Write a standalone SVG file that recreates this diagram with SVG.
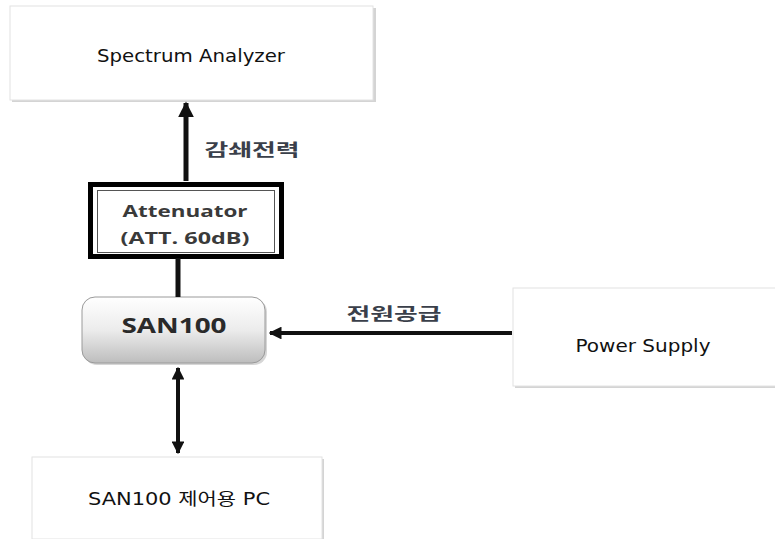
<svg xmlns="http://www.w3.org/2000/svg" width="775" height="539" viewBox="0 0 775 539">
<defs>
<style>
.box{fill:#fff;stroke:#e2e2e2;stroke-width:1}
.shadow{fill:#d4d4d4}
.lbl{font-family:"DejaVu Sans","Noto Sans CJK KR",sans-serif;font-size:17px;fill:#111;text-anchor:middle}
.kr{font-family:"Noto Sans CJK KR",sans-serif;font-weight:bold;font-size:17px;fill:#3a3f4a;text-anchor:middle}
.att{font-family:"Open Sans","DejaVu Sans",sans-serif;font-weight:bold;font-size:16px;fill:#3a3a3a;text-anchor:middle}
.line{stroke:#111;stroke-width:5;fill:none}
</style>
<linearGradient id="g" x1="0" y1="0" x2="0" y2="1">
<stop offset="0" stop-color="#ffffff"/>
<stop offset="0.5" stop-color="#ececec"/>
<stop offset="1" stop-color="#bdbdbd"/>
</linearGradient>
<marker id="ah" viewBox="0 0 10 10" refX="9" refY="5" markerWidth="3.2" markerHeight="3.2" orient="auto-start-reverse" markerUnits="strokeWidth">
<path d="M0,0 L10,5 L0,10 z" fill="#111"/>
</marker>
</defs>

<g id="spectrum-analyzer">
<rect class="shadow" x="12" y="8" width="364" height="94"/>
<rect class="box" x="10" y="6" width="363" height="94"/>
<text class="lbl" x="191" y="62" textLength="188" lengthAdjust="spacingAndGlyphs">Spectrum Analyzer</text>
</g>

<g id="attenuator">
<rect x="90.5" y="184.5" width="191" height="72" fill="#fff" stroke="#000" stroke-width="5"/>
<rect x="97.5" y="190.5" width="177" height="62" fill="#fff" stroke="#555" stroke-width="1"/>
<text class="att" x="185" y="217" textLength="125" lengthAdjust="spacingAndGlyphs">Attenuator</text>
<text class="att" x="185" y="244" textLength="129" lengthAdjust="spacingAndGlyphs">(ATT. 60dB)</text>
</g>

<g id="san100">
<rect x="84" y="299" width="183" height="66" rx="13" fill="#bbb" opacity="0.6"/>
<rect x="82" y="297" width="183" height="66" rx="13" fill="url(#g)" stroke="#9a9a9a" stroke-width="1"/>
<text x="174" y="333" font-family="'Open Sans','DejaVu Sans',sans-serif" font-weight="bold" font-size="22" fill="#2a2a2a" text-anchor="middle" textLength="105" lengthAdjust="spacingAndGlyphs">SAN100</text>
</g>

<g id="power-supply">
<rect class="shadow" x="515" y="290" width="262" height="98"/>
<rect class="box" x="513" y="288" width="264" height="98"/>
<text class="lbl" x="643" y="352" textLength="135" lengthAdjust="spacingAndGlyphs">Power Supply</text>
</g>

<g id="pc">
<rect class="shadow" x="34" y="459" width="290" height="82"/>
<rect class="box" x="32" y="457" width="290" height="82"/>
<text class="lbl" x="179" y="505" textLength="182" lengthAdjust="spacingAndGlyphs">SAN100 제어용 PC</text>
</g>

<g id="connectors">
<line class="line" x1="186" y1="181" x2="186" y2="103" marker-end="url(#ah)"/>
<text class="kr" x="252" y="156" textLength="95" lengthAdjust="spacingAndGlyphs">감쇄전력</text>
<line class="line" x1="178" y1="258" x2="178" y2="297"/>
<line x1="512" y1="333" x2="270" y2="333" stroke="#111" stroke-width="4" marker-end="url(#ah)"/>
<text class="kr" x="394" y="320" textLength="95" lengthAdjust="spacingAndGlyphs">전원공급</text>
<line x1="178" y1="368" x2="178" y2="453" stroke="#111" stroke-width="4" marker-start="url(#ah)" marker-end="url(#ah)"/>
</g>
</svg>
